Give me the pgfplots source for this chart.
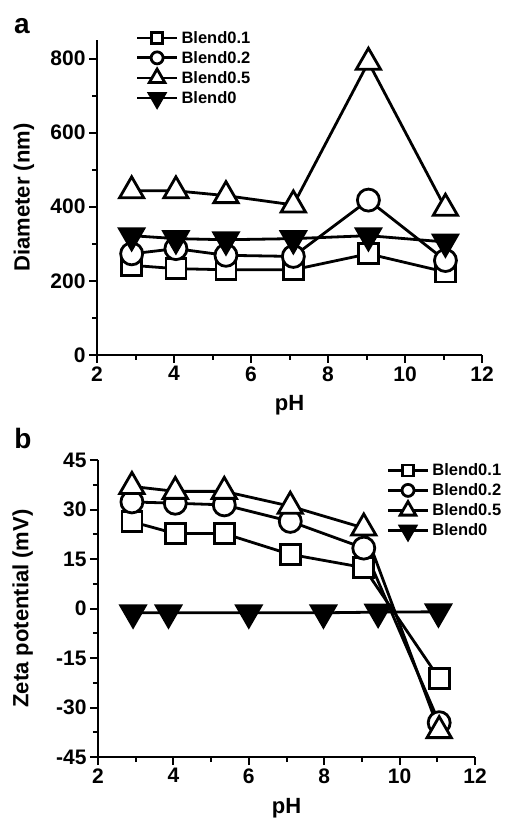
\documentclass[border=0pt]{standalone}
\usepackage{fontspec}
\setmainfont{Liberation Sans}
\usepackage{pgfplots}
\pgfplotsset{compat=1.18}

\pgfplotsset{
  panel/.style={
    scale only axis,
    axis lines=left,
    x axis line style={-}, y axis line style={-},
    axis line style={line width=2.5pt},
    tick align=outside, major tick length=8pt, minor tick length=5pt,
    minor tick num=1,
    every tick/.style={black, line width=2pt},
    tick label style={font=\fontsize{21}{23}\selectfont\bfseries},
    /pgf/number format/assume math mode=true,
    label style={font=\fontsize{22}{24}\selectfont\bfseries},
    xmin=2, xmax=12, xtick={2,4,...,12},
    legend cell align=left,
    legend style={draw=none, fill=none, inner sep=0pt,
      font=\fontsize{16.5}{18}\selectfont\bfseries,
      row sep=2.5pt,
      /tikz/every odd column/.append style={column sep=1pt}},
    legend image code/.code={
      \draw[##1, mark=none] (0pt,0pt) -- (40pt,0pt);
      \draw[##1, only marks] plot coordinates {(20pt,0pt)};
    },
  },
  base/.style={black, line width=2.8pt, mark options={line width=2.4pt}},
  sq/.style={base, mark=square*, mark size=10pt, mark options={fill=white},
    legend image post style={mark size=5.5pt}},
  ci/.style={base, mark=*, mark size=11pt, mark options={fill=white},
    legend image post style={mark size=6pt}},
  tr/.style={base, mark=triangle*, mark size=14pt, mark options={fill=white},
    legend image post style={mark size=9pt}},
  itr/.style={base, mark=triangle*, mark size=14pt, mark options={fill=black, rotate=180},
    legend image post style={mark size=9pt}},
}

\begin{document}
\begin{tikzpicture}
\useasboundingbox (0pt,0pt) rectangle (507pt,819pt);

% panel a
\begin{axis}[panel,
  at={(97pt,464pt)}, width=385pt, height=315pt,
  ymin=0, ymax=850, ytick={0,200,...,800},
  xlabel={pH}, ylabel={Diameter (nm)},
  xlabel style={at={(axis description cs:0.5,-0.159)}, anchor=center},
  ylabel style={at={(axis description cs:-0.19,0.5)}, anchor=center, rotate=0},
  legend style={at={(axis description cs:0.1,1.035)}, anchor=north west},
]
\addplot[sq] coordinates {(2.9,242) (4.05,233) (5.35,230) (7.1,230) (9.05,273) (11.05,224)};
\addplot[ci] coordinates {(2.9,273) (4.05,287) (5.35,269) (7.1,266) (9.05,418) (11.05,255)};
\addplot[tr] coordinates {(2.9,443) (4.05,443) (5.35,430) (7.1,405) (9.05,790) (11.05,396)};
\addplot[itr] coordinates {(2.9,322) (4.05,314) (5.35,311) (7.1,314) (9.05,322) (11.05,305)};
\legend{Blend0.1,Blend0.2,Blend0.5,Blend0}
\end{axis}

% panel b
\begin{axis}[panel,
  at={(98pt,62pt)}, width=377pt, height=297pt,
  ymin=-45, ymax=45, ytick={-45,-30,...,45},
  xlabel={pH}, ylabel={Zeta potential (mV)},
  xlabel style={at={(axis description cs:0.5,-0.172)}, anchor=center},
  ylabel style={at={(axis description cs:-0.2,0.5)}, anchor=center, rotate=0},
  legend style={at={(axis description cs:0.765,0.995)}, anchor=north west},
]
\addplot[sq] coordinates {(2.9,26.3) (4.05,22.7) (5.35,22.7) (7.1,16.4) (9.05,12.4) (11.05,-21.2)};
\addplot[ci] coordinates {(2.9,32.3) (4.05,31.9) (5.35,31.4) (7.1,26.4) (9.05,18.3) (11.05,-34.6)};
\addplot[tr] coordinates {(2.9,37) (4.05,35.5) (5.35,35.5) (7.1,31) (9.05,24.4) (11.05,-37)};
\addplot[itr] coordinates {(2.93,-1.3) (3.87,-1.3) (6.0,-1.3) (7.98,-1.3) (9.43,-1.1) (11.03,-1)};
\legend{Blend0.1,Blend0.2,Blend0.5,Blend0}
\end{axis}

\node[font=\fontsize{28}{30}\selectfont\bfseries] at (22pt,793pt) {a};
\node[font=\fontsize{28}{30}\selectfont\bfseries] at (23pt,381pt) {b};
\end{tikzpicture}
\end{document}
